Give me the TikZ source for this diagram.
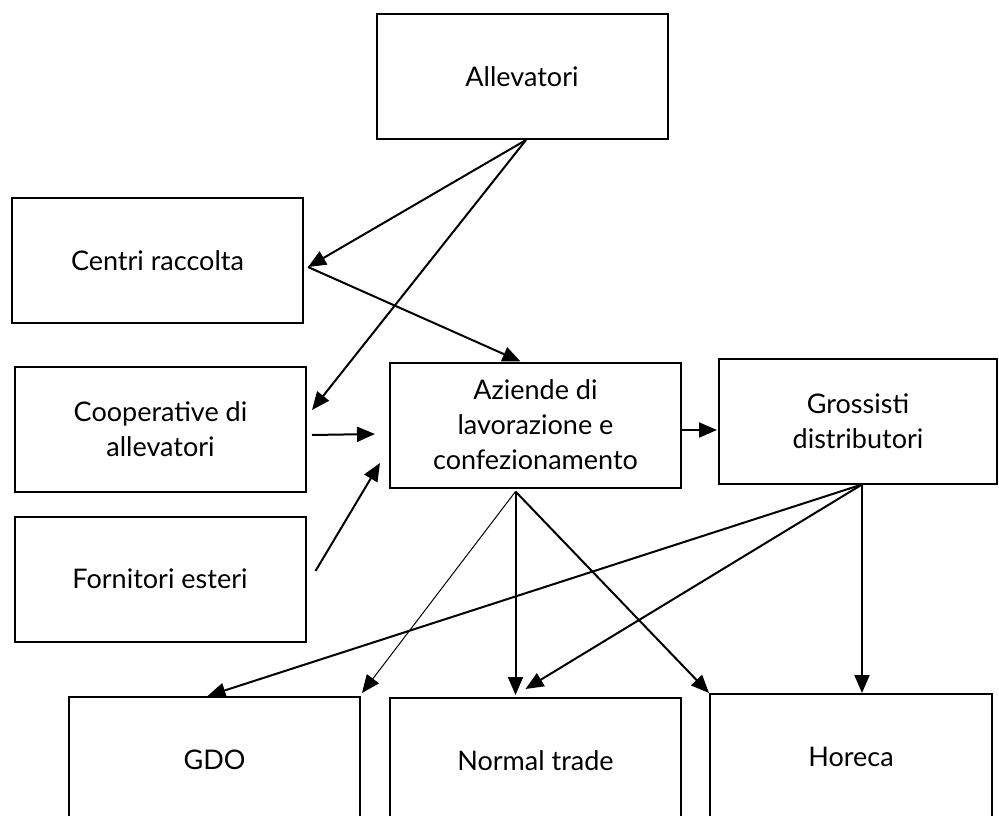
\documentclass[tikz,border=0pt]{standalone}
\usepackage{fontspec}
\setmainfont{Lato}
\usetikzlibrary{arrows.meta}
\begin{document}
\begin{tikzpicture}[x=1pt, y=-1pt,
    box/.style={draw, line width=2pt, align=center, inner sep=0pt,
      minimum width=291pt, minimum height=125pt, font=\fontsize{27}{35}\selectfont},
    flow/.style={-{Triangle[length=18pt,width=15pt]}, line width=2pt}]
    \clip (0,0) rectangle (999,816);

    \node[box] (0) at (522,76.5) {Allevatori};
    \node[box] (1) at (157.5,260.5) {Centri raccolta};
    \node[box] (2) at (160.5,429.5) {Cooperative di\\allevatori};
    \node[box] (3) at (160,579) {Fornitori esteri};
    \node[box] (4) at (535.5,425) {Aziende di\\lavorazione e\\confezionamento};
    \node[box, minimum width=278pt] (5) at (858,421) {Grossisti\\distributori};
    \node[box] (6) at (214.5,759.5) {GDO};
    \node[box] (7) at (535.5,760.5) {Normal trade};
    \node[box, minimum width=282pt] (8) at (851,756.5) {Horeca};

    \draw[flow] ([xshift=4pt]0.south) -- ([xshift=4pt,yshift=-6.5pt]1.east);
    \draw[flow] ([xshift=4pt]0.south) -- ([xshift=5pt,yshift=19.5pt]2.east);
    \draw[flow] ([xshift=4pt,yshift=-6.5pt]1.east) -- ([xshift=-15pt]4.north);
    \draw[flow] ([xshift=5pt,yshift=-5.5pt]2.east) -- ([xshift=-14pt,yshift=-9pt]4.west);
    \draw[flow] ([xshift=9pt,yshift=8pt]3.east) -- ([xshift=-9pt,yshift=-38pt]4.west);
    \draw[flow] ([yshift=-5pt]4.east) -- ([xshift=-1pt,yshift=-9pt]5.west);

    \draw[flow, line width=1pt] ([xshift=-20pt,yshift=-3pt]4.south) -- ([xshift=1pt,yshift=3pt]6.north east); % trait fin
    \draw[flow] ([xshift=-20pt,yshift=-3pt]4.south) -- ([xshift=-20pt,yshift=2pt]7.north);
    \draw[flow] ([xshift=-20pt,yshift=-3pt]4.south) -- (8.north west);

    \draw[flow] ([xshift=4pt]5.south) -- ([xshift=-7pt]6.north);
    \draw[flow] ([xshift=4pt]5.south) -- ([xshift=-10pt,yshift=8pt]7.north);
    \draw[flow] ([xshift=4pt]5.south) -- ([xshift=11pt]8.north);
  \end{tikzpicture}
\end{document}
